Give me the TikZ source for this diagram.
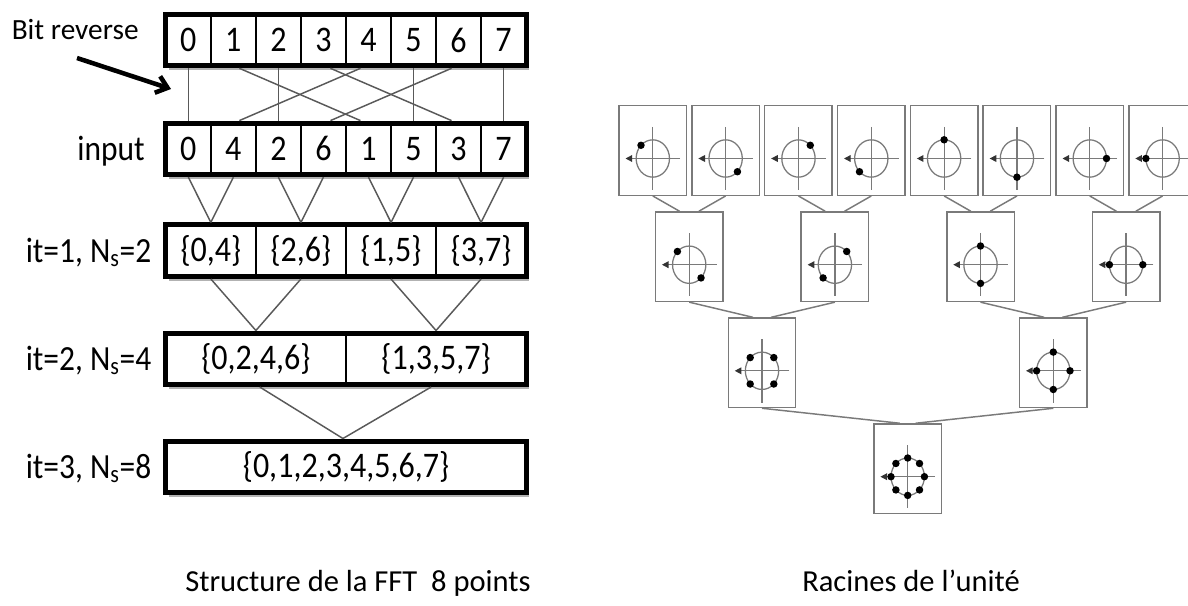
\documentclass[tikz,border=0pt]{standalone}
\usepackage{fontspec}
\setmainfont{Carlito}
\newfontfamily\narrowfam[FakeStretch=0.89]{Carlito}
\usetikzlibrary{calc,arrows.meta,shadows}
\newcommand\cellfont{\narrowfam\fontsize{27pt}{31pt}\selectfont}
\newcommand\lblfont{\narrowfam\fontsize{26.5pt}{31pt}\selectfont}
\newcommand\unitroot[2]{%
  \begin{scope}[shift={($(#1.center)+(0,8)$)}]
    \draw[rax] (0,-31.7) -- (0,31.7);
    \draw[rax] (0,0) ellipse [x radius=12.5pt, y radius=14pt];
    \draw[rax,-{Triangle[length=5pt,width=5pt,fill=black!80,color=black!80]}] (27.3,0) -- (-27.3,0);
    \foreach \a in {#2} \fill[black] ({16.7*cos(\a)},{-18.7*sin(\a)}) circle[radius=2.8pt];
  \end{scope}}
\begin{document}
\begin{tikzpicture}[x=0.75pt,y=-0.75pt,
  conn/.style={draw=black!65, line width=1.1pt},
  frame/.style={draw=black, line width=3.75pt, fill=white, inner sep=0pt,
    minimum height=38.7pt, minimum width=270.2pt,
    drop shadow={shadow xshift=2.4pt,shadow yshift=-3.2pt,opacity=0.55,fill=black!55}},
  cell/.style={draw=black, line width=2pt, inner sep=0pt, minimum height=38.7pt, font=\cellfont},
  lbl/.style={font=\lblfont, inner sep=0pt},
  rbox/.style={draw=black!52, line width=1.1pt, inner sep=0pt, minimum width=50.6pt, minimum height=67.1pt},
  rax/.style={draw=black!52, line width=0.95pt},
  rconn/.style={draw=black!52, line width=1.1pt}]
\useasboundingbox (0,0) rectangle (1188,606);
\clip (0,0) rectangle (1188,606);

% ---------- left: FFT structure ----------
\node[frame] (R0) at (345.95,40) {};
\foreach \v [count=\i from 0] in {0,1,2,3,4,5,6,7}
  \node[cell,minimum width=33.78pt] (a\i) at ({165.8+45.04*(\i+0.5)},40) {\v};
\node[frame] (R1) at (345.95,148.9) {};
\foreach \v [count=\i from 0] in {0,4,2,6,1,5,3,7}
  \node[cell,minimum width=33.78pt] (b\i) at ({165.8+45.04*(\i+0.5)},148.9) {\v};
\node[frame] (R2) at (345.95,250.7) {};
\node[cell,minimum width=67.56pt] (c0) at (210.84,250.7) {\{0,4\}};
\node[cell,minimum width=67.56pt] (c1) at (300.92,250.7) {\{2,6\}};
\node[cell,minimum width=67.56pt] (c2) at (391.00,250.7) {\{1,5\}};
\node[cell,minimum width=67.56pt] (c3) at (481.08,250.7) {\{3,7\}};
\node[frame] (R3) at (345.95,358.8) {};
\node[cell,minimum width=135.11pt] (d0) at (255.88,358.8) {\{0,2,4,6\}};
\node[cell,minimum width=135.11pt] (d1) at (436.03,358.8) {\{1,3,5,7\}};
\node[frame] (R4) at (345.95,466.8) {};
\node[cell,minimum width=270.2pt] (e0) at (345.95,466.8) {\{0,1,2,3,4,5,6,7\}};

% bit reverse connectors
\draw[conn] (a0.center |- R0.south) -- (b0.center |- R1.north);
\draw[conn] (a2.center |- R0.south) -- (b2.center |- R1.north);
\draw[conn] (a5.center |- R0.south) -- (b5.center |- R1.north);
\draw[conn] (a7.center |- R0.south) -- (b7.center |- R1.north);
\draw[conn] ($(a1.center |- R0.south)+(6,0)$) -- ($(b4.center |- R1.north)+(-8,0)$);
\draw[conn] ($(a4.center |- R0.south)+(-8,0)$) -- ($(b1.center |- R1.north)+(6,0)$);
\draw[conn] ($(a3.center |- R0.south)+(7,0)$) -- ($(b6.center |- R1.north)+(-7,0)$);
\draw[conn] ($(a6.center |- R0.south)+(-7,0)$) -- ($(b3.center |- R1.north)+(7,0)$);
% input -> it=1
\foreach \p/\q in {0/0,1/0,2/1,3/1,4/2,5/2,6/3,7/3}
  \draw[conn] (b\p.center |- R1.south) -- (c\q.center |- R2.north);
% it=1 -> it=2
\foreach \p/\q in {0/0,1/0,2/1,3/1}
  \draw[conn] (c\p.center |- R2.south) -- (d\q.center |- R3.north);
% it=2 -> it=3
\draw[conn] ($(d0.center |- R3.south)+(4,0)$) -- ($(e0.center |- R4.north)+(-3,0)$);
\draw[conn] ($(d1.center |- R3.south)+(-5,0)$) -- ($(e0.center |- R4.north)+(-3,0)$);

% labels
\node[font=\fontsize{22pt}{26pt}\selectfont, inner sep=0pt, anchor=base west] (bitrev) at (11.5,40) {Bit reverse};
\coordinate (arrs) at (77,58);
\coordinate (arre) at (171,89);
\draw[line width=3.4pt, -{Straight Barb[length=8pt,width=13pt,line width=3.4pt]}] (arrs) -- (arre);
\node[lbl, anchor=base east] (linput) at (145,160.5) {input};
\node[lbl, anchor=base east] (lit1) at (151.5,262) {it=1, N\textsubscript{s}=2};
\node[lbl, anchor=base east] (lit2) at (151.5,370) {it=2, N\textsubscript{s}=4};
\node[lbl, anchor=base east] (lit3) at (151.5,478) {it=3, N\textsubscript{s}=8};

% ---------- right: roots of unity ----------
\foreach \i in {0,...,7}
  \node[rbox] (t\i) at ({652.8+72.83*\i},150.5) {};
\node[rbox] (m0) at (689.2,256.7) {};
\node[rbox] (m1) at (834.9,256.7) {};
\node[rbox] (m2) at (980.5,256.7) {};
\node[rbox] (m3) at (1126.1,256.7) {};
\node[rbox] (h0) at (762.0,362.8) {};
\node[rbox] (h1) at (1053.3,362.8) {};
\node[rbox] (g0) at (907.7,468.7) {};

\foreach \k/\m in {0/0,2/1,4/2,6/3}{
  \draw[rconn] (t\k.south) -- ($(m\m.north)+(-9.7,0)$);
}
\foreach \k/\m in {1/0,3/1,5/2,7/3}{
  \draw[rconn] (t\k.south) -- ($(m\m.north)+(9.7,0)$);
}
\draw[rconn] (m0.south) -- ($(h0.north)+(-9,0)$);
\draw[rconn] (m1.south) -- ($(h0.north)+(9,0)$);
\draw[rconn] (m2.south) -- ($(h1.north)+(-9,0)$);
\draw[rconn] (m3.south) -- ($(h1.north)+(9,0)$);
\draw[rconn] (h0.south) -- ($(g0.north)+(-8,0)$);
\draw[rconn] (h1.south) -- ($(g0.north)+(8,0)$);

\unitroot{t0}{135}
\unitroot{t1}{315}
\unitroot{t2}{45}
\unitroot{t3}{225}
\unitroot{t4}{90}
\unitroot{t5}{270}
\unitroot{t6}{0}
\unitroot{t7}{180}
\unitroot{m0}{135,315}
\unitroot{m1}{45,225}
\unitroot{m2}{90,270}
\unitroot{m3}{0,180}
\unitroot{h0}{45,135,225,315}
\unitroot{h1}{0,90,180,270}
\unitroot{g0}{0,45,90,135,180,225,270,315}

% captions
\node[font=\fontsize{22.9pt}{27pt}\selectfont, inner sep=0pt, anchor=base] (cap1) at (358,591) {Structure de la FFT\ \ 8 points};
\node[font=\fontsize{22.9pt}{27pt}\selectfont, inner sep=0pt, anchor=base] (cap2) at (911,591) {Racines de l’unité};
\end{tikzpicture}
\end{document}
